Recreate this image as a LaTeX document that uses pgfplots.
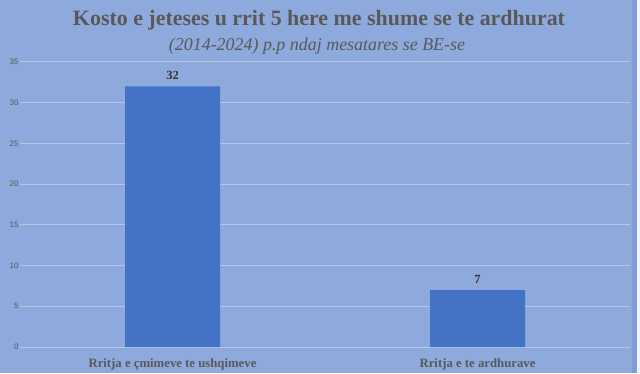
\documentclass[border=0pt]{standalone}
\usepackage{pgfplots}
\pgfplotsset{compat=1.18}
\usepackage{fontspec}
\setmainfont{Liberation Serif}
\newfontfamily\sansf{Liberation Sans}
\definecolor{bgblue}{HTML}{8EA9DB}
\definecolor{edgeblue}{HTML}{7F9CD4}
\definecolor{gridblue}{HTML}{B4C7E7}
\definecolor{barblue}{HTML}{4472C4}
\definecolor{titlegray}{HTML}{595959}
\begin{document}
\begin{tikzpicture}[x=1bp,y=1bp]
\fill[bgblue] (0,0) rectangle (640,373);
\fill[edgeblue] (632,0) rectangle (637,373);
\fill[white!85!bgblue] (637,0) rectangle (640,373);
\node[font=\fontsize{22}{24}\selectfont\bfseries, text=titlegray] at (319,353) {Kosto e jeteses u rrit 5 here me shume se te ardhurat};
\node[font=\fontsize{18}{20}\selectfont\itshape, text=titlegray] at (317,327) {(2014-2024) p.p ndaj mesatares se BE-se};
\begin{axis}[
  at={(20bp,26bp)}, anchor=south west,
  scale only axis, width=610bp, height=285bp,
  xmin=-0.5, xmax=1.5, ymin=0, ymax=35,
  axis line style={draw=none},
  ytick={0,5,...,35},
  xtick={0,1},
  xticklabels={Rritja e çmimeve te ushqimeve, Rritja e te ardhurave},
  xticklabel style={font=\fontsize{12.8}{14}\selectfont\bfseries, text=titlegray, yshift=-8bp},
  yticklabel style={font=\sansf\fontsize{8}{9}\selectfont, text=titlegray, xshift=2bp},
  /pgf/number format/assume math mode=true,
  major tick length=0pt,
  ymajorgrids, grid style={gridblue, line width=1bp},
  ybar, bar width=95bp,
  nodes near coords,
  every node near coord/.append style={font=\fontsize{12.5}{14}\selectfont\bfseries, text=black!80, yshift=3bp},
]
\addplot[fill=barblue, draw=none] coordinates {(0,32) (1,7)};
\end{axis}
\end{tikzpicture}
\end{document}
